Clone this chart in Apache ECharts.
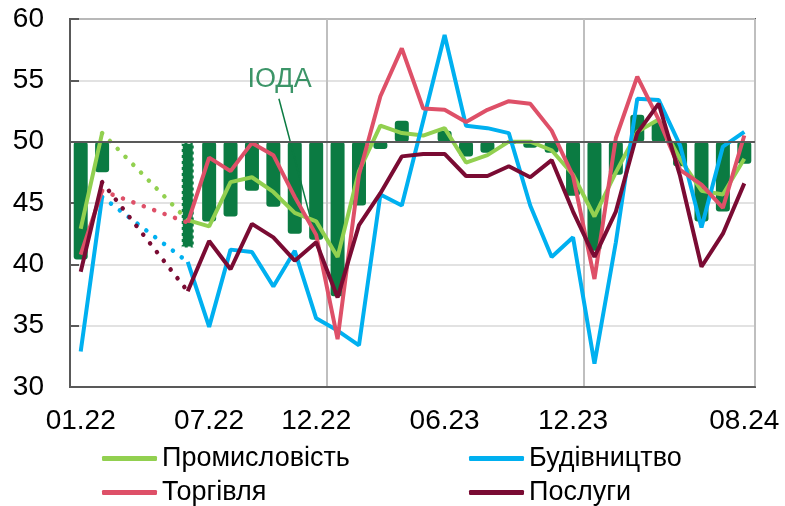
<!DOCTYPE html>
<html>
<head>
<meta charset="utf-8">
<script src="https://cdn.jsdelivr.net/npm/echarts@6/dist/echarts.min.js"></script>
<style>
  html, body { margin: 0; padding: 0; background: #fff; }
  #chart { width: 785px; height: 506px; }
</style>
</head>
<body>
<div id="chart"></div>
<script>
// місяці 01.22 .. 08.24
const months = ['01.22','02.22','03.22','04.22','05.22','06.22','07.22','08.22','09.22','10.22','11.22','12.22',
  '01.23','02.23','03.23','04.23','05.23','06.23','07.23','08.23','09.23','10.23','11.23','12.23',
  '01.24','02.24','03.24','04.24','05.24','06.24','07.24','08.24'];
const shownLabels = ['01.22','07.22','12.22','06.23','12.23','08.24'];
const yearStarts = ['01.23','01.24'];

// ІОДА (стовпці від 50)
const ioda = [40.4, 47.5, null, null, null, 41.3, 43.5, 43.9, 46.0, 44.7, 42.5, 42.0,
  37.4, 44.8, 49.4, 51.7, 49.9, 50.9, 48.8, 49.1, 49.8, 49.5, 49.1, 45.6,
  41.1, 47.3, 52.2, 51.6, 48.0, 43.5, 44.3, 48.2];
const industry = [42.9, 50.7, null, null, null, 43.6, 43.1, 46.7, 47.1, 45.9, 44.2, 43.5,
  40.6, 47.6, 51.3, 50.7, 50.5, 51.1, 48.3, 48.9, 50.0, 50.0, 49.3, 47.3,
  43.9, 47.5, 50.8, 51.8, 48.6, 46.0, 45.7, 48.6];
const construction = [32.9, 45.5, null, null, null, 40.2, 34.9, 41.2, 41.0, 38.2, 41.1, 35.6,
  34.6, 33.4, 45.7, 44.8, 51.7, 58.7, 51.3, 51.1, 50.7, 44.8, 40.6, 42.2,
  31.9, 41.8, 53.5, 53.4, 49.7, 43.0, 49.6, 50.8];
const trade = [40.8, 46.0, null, null, null, 43.4, 48.7, 47.6, 49.9, 48.9, 45.5, 42.4,
  33.9, 47.3, 53.7, 57.6, 52.7, 52.6, 51.6, 52.6, 53.3, 53.1, 50.9, 47.2,
  38.8, 50.3, 55.3, 51.8, 47.7, 46.5, 44.6, 50.5];
const services = [39.4, 46.7, null, null, null, 37.8, 41.9, 39.6, 43.3, 42.2, 40.3, 41.8,
  37.3, 43.2, 45.8, 48.8, 49.0, 49.0, 47.2, 47.2, 48.0, 47.1, 48.5, 44.3,
  40.6, 44.3, 50.7, 53.1, 47.2, 39.8, 42.5, 46.6];

// підпис ІОДА та виноска (в координатах індекс/значення)
const iodaLabelPos = [9.29, 55.1];
const iodaLeader = [[9.26, 53.5], [10.97, 42.2]];

const font = 'Liberation Sans, Arial, sans-serif';
const green = '#0B7B42';

const chart = echarts.init(document.getElementById('chart'));

function lineSeries(name, data, color) {
  return {
    name: name, type: 'line', data: data, z: 3,
    symbol: 'none', connectNulls: false,
    itemStyle: { color: color },
    lineStyle: { color: color, width: 4 }
  };
}
function gapSeries(name, data, color) {
  // пунктир між 02.22 та 06.22
  return {
    name: name + '_gap', type: 'line', z: 3,
    data: data.map((v, i) => (i === 1 || i === 5) ? v : null),
    symbol: 'none', connectNulls: true,
    lineStyle: { color: color, width: 4.5, type: [0.1, 11], cap: 'round' }
  };
}
function legendItem(name, left, top) {
  return {
    data: [name], left: left, top: top,
    icon: 'roundRect', itemWidth: 55, itemHeight: 5,
    textStyle: { color: '#000', fontSize: 27, fontFamily: font }
  };
}

const barBase = ioda.map(v => v == null ? null : Math.min(v, 50));
const barDelta = ioda.map((v, i) => {
  if (v == null) return null;
  const item = { value: Math.abs(v - 50) };
  if (i === 5) item.itemStyle = { borderColor: '#fff', borderWidth: 2, borderType: [3, 3], borderRadius: 0 };
  return item;
});

chart.setOption({
  animation: false,
  grid: { left: 70, right: 30, top: 19, bottom: 119, show: true, borderColor: '#595959', borderWidth: 2 },
  xAxis: [{
    type: 'category', data: months, boundaryGap: true,
    axisLine: { lineStyle: { color: '#595959', width: 2 } },
    axisTick: { show: false },
    axisLabel: {
      interval: (i, v) => shownLabels.includes(v),
      color: '#000', fontSize: 28, fontFamily: font, margin: 20
    },
    splitLine: { show: true, interval: (i, v) => yearStarts.includes(v), lineStyle: { color: '#BFBFBF', width: 2 } }
  }, {
    type: 'value', min: -0.5, max: 31.5, show: false
  }],
  yAxis: {
    type: 'value', min: 30, max: 60, interval: 5,
    axisLine: { show: true, onZero: false, lineStyle: { color: '#595959', width: 2 } },
    axisTick: { show: true, inside: true, length: 9, lineStyle: { color: '#595959', width: 2 } },
    axisLabel: { color: '#000', fontSize: 28, fontFamily: font, margin: 26 },
    splitLine: { lineStyle: { color: '#D9D9D9', width: 1.5 } }
  },
  legend: [
    legendItem('Промисловість', 97, 440),
    legendItem('Торгівля', 97, 474),
    legendItem('Будівництво', 464, 440),
    legendItem('Послуги', 464, 474)
  ],
  series: [
    { name: 'base', type: 'bar', stack: 'ioda', data: barBase, barWidth: 14,
      itemStyle: { color: 'transparent' }, silent: true },
    { name: 'ІОДА', type: 'bar', stack: 'ioda', data: barDelta, barWidth: 14,
      itemStyle: { color: green, borderRadius: 3 },
      markLine: {
        silent: true, symbol: 'none', label: { show: false },
        lineStyle: { color: '#595959', width: 2, type: 'solid' },
        data: [{ yAxis: 50 }]
      }
    },
    gapSeries('Промисловість', industry, '#92D050'),
    gapSeries('Будівництво', construction, '#00B0F0'),
    gapSeries('Торгівля', trade, '#DE5068'),
    gapSeries('Послуги', services, '#7A0B33'),
    lineSeries('Промисловість', industry, '#92D050'),
    lineSeries('Будівництво', construction, '#00B0F0'),
    lineSeries('Торгівля', trade, '#DE5068'),
    lineSeries('Послуги', services, '#7A0B33'),
    { name: 'leader', type: 'line', xAxisIndex: 1, data: iodaLeader, symbol: 'none', z: 2,
      lineStyle: { color: green, width: 1.5 }, silent: true },
    { name: 'label', type: 'scatter', xAxisIndex: 1, data: [iodaLabelPos], symbolSize: 1,
      itemStyle: { color: 'transparent' }, silent: true,
      label: { show: true, position: 'inside', formatter: 'ІОДА', color: green, fontSize: 27, fontFamily: font } }
  ]
});
</script>
</body>
</html>
